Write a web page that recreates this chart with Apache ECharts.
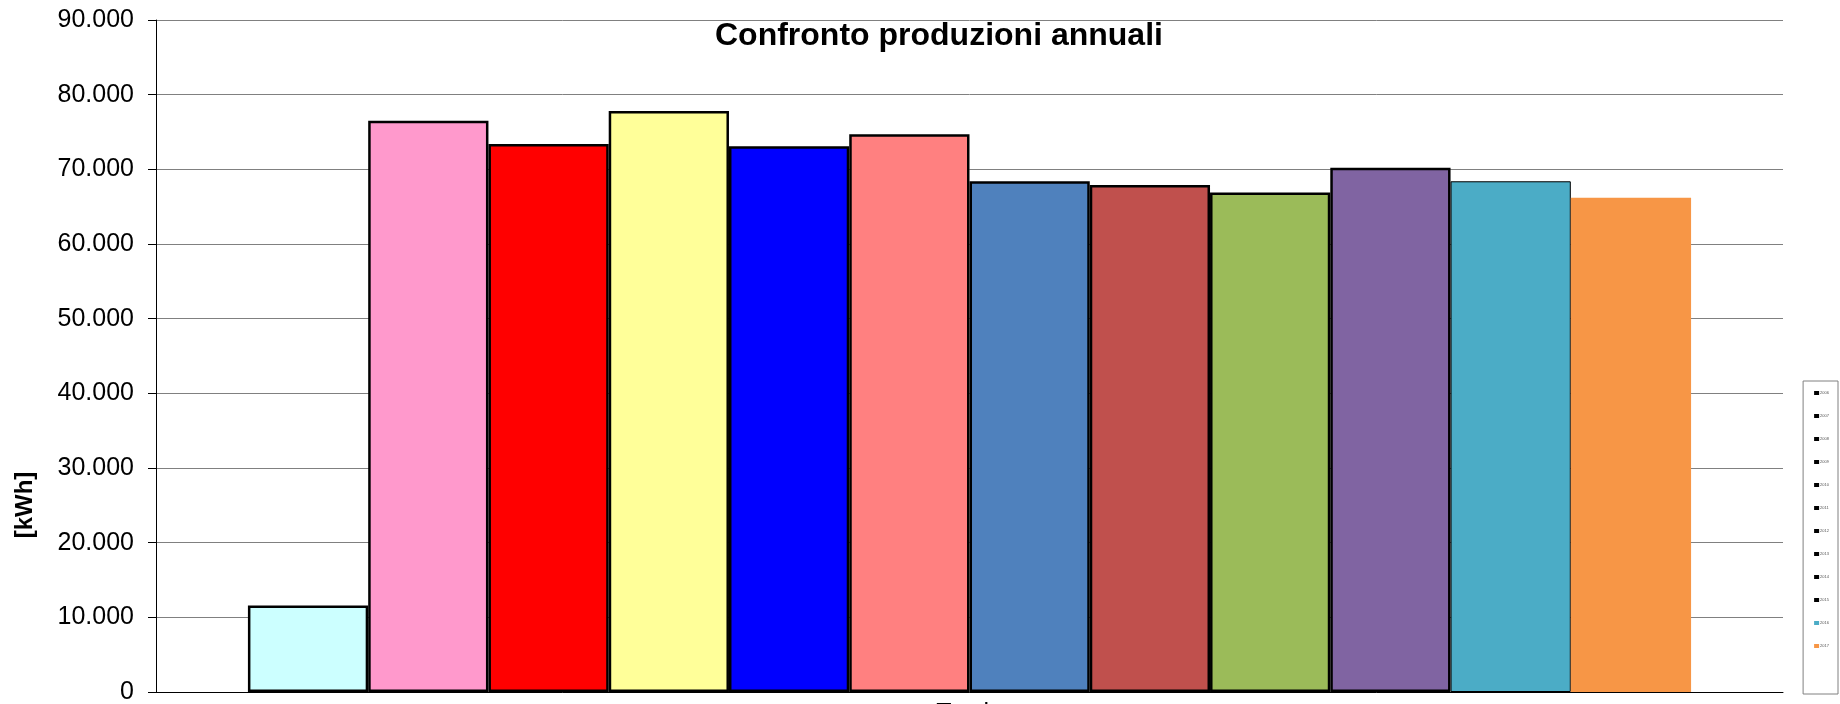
<!DOCTYPE html>
<html>
<head>
<meta charset="utf-8">
<script src="https://cdn.jsdelivr.net/npm/echarts@6/dist/echarts.min.js"></script>
<style>
html,body{margin:0;padding:0;background:#fff;}
#chart{width:1840px;height:704px;}
</style>
</head>
<body>
<div id="chart"></div>
<script>
var categories = ['Totale'];
var years = ['2006','2007','2008','2009','2010','2011','2012','2013','2014','2015','2016','2017'];
var values = [11600, 76500, 73400, 77800, 73100, 74700, 68400, 67900, 66900, 70200, 68400, 66200];
var yTicks = { min: 0, max: 90000, interval: 10000 };

var colors = ['#CCFFFF','#FF99CC','#FF0000','#FFFF99','#0000FF','#FF8080','#4F81BD','#C0504D','#9BBB59','#8064A2','#4BACC6','#F79646'];
var borders = [2.5,2.5,2.5,2.5,2.5,2.5,2.5,2.5,2.5,2.5,1,0];

function fmt(v){ return String(v).replace(/\B(?=(\d{3})+(?!\d))/g, '.'); }

var series = years.map(function(y, i){
  return {
    name: y,
    type: 'bar',
    barGap: '0%',
    barCategoryGap: '11.3%',
    data: [values[i]],
    itemStyle: { color: colors[i], borderColor: '#000', borderWidth: borders[i] },
    emphasis: { disabled: true }
  };
});

var legendData = years.map(function(y, i){
  return {
    name: y,
    itemStyle: { color: borders[i] >= 2 ? '#000' : colors[i], borderWidth: 0 }
  };
});

var chart = echarts.init(document.getElementById('chart'));
chart.setOption({
  animation: false,
  backgroundColor: '#fff',
  title: {
    text: 'Confronto produzioni annuali',
    left: 715, top: 20, padding: 0,
    textStyle: { fontFamily: 'Liberation Sans, Arial', fontWeight: 'bold', fontSize: 32, color: '#000' }
  },
  legend: {
    orient: 'vertical',
    right: 2, top: 381,
    padding: [10, 9, 46, 11],
    itemWidth: 5, itemHeight: 4, itemGap: 19,
    borderColor: '#808080', borderWidth: 1,
    icon: 'rect',
    textStyle: { fontSize: 4, lineHeight: 4, color: '#555', padding: [0,0,0,-4] },
    data: legendData
  },
  grid: { left: 156, right: 57, top: 20, bottom: 12, outerBoundsMode: 'none', containLabel: false },
  xAxis: {
    type: 'category',
    data: categories,
    axisLine: { lineStyle: { color: '#000', width: 1 } },
    axisTick: { show: false },
    axisLabel: { fontFamily: 'Liberation Sans, Arial', fontSize: 25, color: '#000', margin: 10 }
  },
  yAxis: {
    type: 'value',
    min: yTicks.min, max: yTicks.max, interval: yTicks.interval,
    axisLine: { show: true, lineStyle: { color: '#000', width: 1 } },
    axisTick: { show: true, length: 8, lineStyle: { color: '#000' } },
    splitLine: { lineStyle: { color: '#808080', width: 1 } },
    axisLabel: { fontFamily: 'Liberation Sans, Arial', fontSize: 25, color: '#000', margin: 22, formatter: fmt }
  },
  graphic: [{
    type: 'text',
    x: 25, y: 505,
    rotation: Math.PI / 2,
    style: { text: '[kWh]', font: 'bold 24px "Liberation Sans", Arial', fill: '#000', textAlign: 'center', textVerticalAlign: 'middle' }
  }],
  series: series
});
</script>
</body>
</html>
